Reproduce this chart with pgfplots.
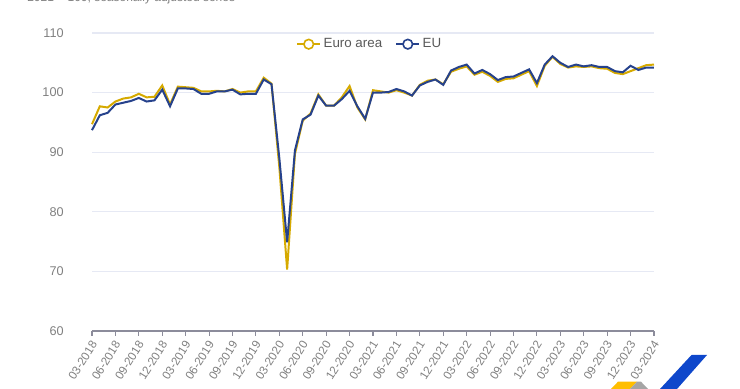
\documentclass[border=0pt]{standalone}
\usepackage{pgfplots}
\pgfplotsset{compat=1.18}
\usepackage{pgfplotstable}
\usepackage{fontspec}
\setmainfont{Liberation Sans}
\definecolor{eacol}{RGB}{214,170,0}
\definecolor{eucol}{RGB}{38,66,140}
\definecolor{gridc}{RGB}{230,233,244}
\definecolor{tickc}{RGB}{128,128,128}
\definecolor{axc}{RGB}{140,140,155}
\definecolor{logob}{RGB}{14,71,203}
\definecolor{logoy}{RGB}{255,190,0}
\definecolor{logog}{RGB}{165,165,165}

\pgfplotstableread{
i ea
0 94.7
1 97.7
2 97.5
3 98.5
4 99.0
5 99.2
6 99.8
7 99.2
8 99.3
9 101.2
10 98.0
11 101.0
12 100.9
13 100.8
14 100.2
15 100.2
16 100.3
17 100.2
18 100.6
19 100.0
20 100.2
21 100.2
22 102.5
23 101.5
24 87.5
25 70.3
26 89.7
27 95.3
28 96.5
29 99.7
30 97.8
31 97.8
32 99.2
33 101.1
34 97.5
35 95.5
36 100.4
37 100.2
38 100.0
39 100.4
40 100.0
41 99.5
42 101.3
43 102.0
44 102.2
45 101.4
46 103.5
47 104.0
48 104.4
49 103.0
50 103.5
51 102.8
52 101.8
53 102.3
54 102.4
55 103.0
56 103.6
57 101.1
58 104.5
59 106.0
60 104.8
61 104.2
62 104.4
63 104.3
64 104.4
65 104.1
66 104.0
67 103.3
68 103.1
69 103.6
70 104.1
71 104.6
72 104.7
}\eatable

\pgfplotstableread{
i eu
0 93.7
1 96.2
2 96.6
3 98.0
4 98.3
5 98.6
6 99.1
7 98.5
8 98.7
9 100.5
10 97.7
11 100.7
12 100.7
13 100.6
14 99.8
15 99.8
16 100.2
17 100.2
18 100.5
19 99.7
20 99.8
21 99.8
22 102.2
23 101.4
24 89.0
25 74.9
26 90.3
27 95.5
28 96.3
29 99.5
30 97.8
31 97.8
32 98.9
33 100.3
34 97.7
35 95.6
36 100.0
37 100.0
38 100.1
39 100.6
40 100.2
41 99.5
42 101.2
43 101.8
44 102.2
45 101.3
46 103.7
47 104.3
48 104.7
49 103.2
50 103.8
51 103.1
52 102.1
53 102.6
54 102.7
55 103.3
56 103.9
57 101.6
58 104.7
59 106.1
60 105.0
61 104.3
62 104.7
63 104.4
64 104.6
65 104.3
66 104.3
67 103.6
68 103.4
69 104.5
70 103.8
71 104.2
72 104.2
}\eutable

\begin{document}
\begin{tikzpicture}[x=0.75pt,y=0.75pt]
\useasboundingbox (0,0) rectangle (740,389);
\node[anchor=base west, text=tickc, inner sep=0pt, font=\fontsize{9}{10}\selectfont] at (27,387) {2021 = 100, seasonally adjusted series};
% logo
\fill[logob] (691.5,34) -- (707,34) -- (677,0) -- (660,0) -- cycle;
\fill[logoy] (618,7.3) -- (637,7.3) -- (630,0) -- (611,0) -- cycle;
\fill[logog] (637,7.3) -- (641,7.3) -- (648,0) -- (630,0) -- cycle;
\begin{axis}[
  at={(69pt,43.5pt)}, anchor=south west,
  scale only axis, width=421.5pt, height=223.5pt,
  xmin=0, xmax=72, ymin=60, ymax=110,
  ytick={60,70,...,110},
  xtick={0,3,...,72},
  xticklabels={03-2018,06-2018,09-2018,12-2018,03-2019,06-2019,09-2019,12-2019,03-2020,06-2020,09-2020,12-2020,03-2021,06-2021,09-2021,12-2021,03-2022,06-2022,09-2022,12-2022,03-2023,06-2023,09-2023,12-2023,03-2024},
  axis lines*=left,
  y axis line style={draw=none},
  x axis line style={draw=axc, line width=0.8pt, -},
  ytick style={draw=none},
  xtick style={draw=axc, line width=0.8pt},
  tick align=outside, major tick length=3.75pt,
  ymajorgrids, grid style={draw=gridc, line width=0.8pt},
  /pgf/number format/assume math mode=true,
  yticklabel style={text=tickc, font=\fontsize{9.5}{10}\selectfont, xshift=-14pt},
  xticklabel style={text=tickc, font=\fontsize{8.8}{10}\selectfont, rotate=58, anchor=north east, inner sep=0.5pt, xshift=-2.5pt},
  legend style={at={(0.495,1.0)}, anchor=north, draw=none, fill=none,
     legend columns=2, font=\fontsize{10}{11}\selectfont, text=black!65,
     /tikz/every even column/.append style={column sep=8pt}},
  legend image code/.code={
     \draw[line width=1.4pt] (0pt,0pt) -- (17pt,0pt);
     \draw[line width=1.2pt, fill=white] (8.5pt,0pt) circle (3.6pt);},
  clip=false,
]
\addplot[eacol, line width=1.5pt] table[x=i, y=ea] {\eatable};
\addlegendentry{Euro area}
\addplot[eucol, line width=1.5pt] table[x=i, y=eu] {\eutable};
\addlegendentry{EU}
\end{axis}
\end{tikzpicture}
\end{document}
